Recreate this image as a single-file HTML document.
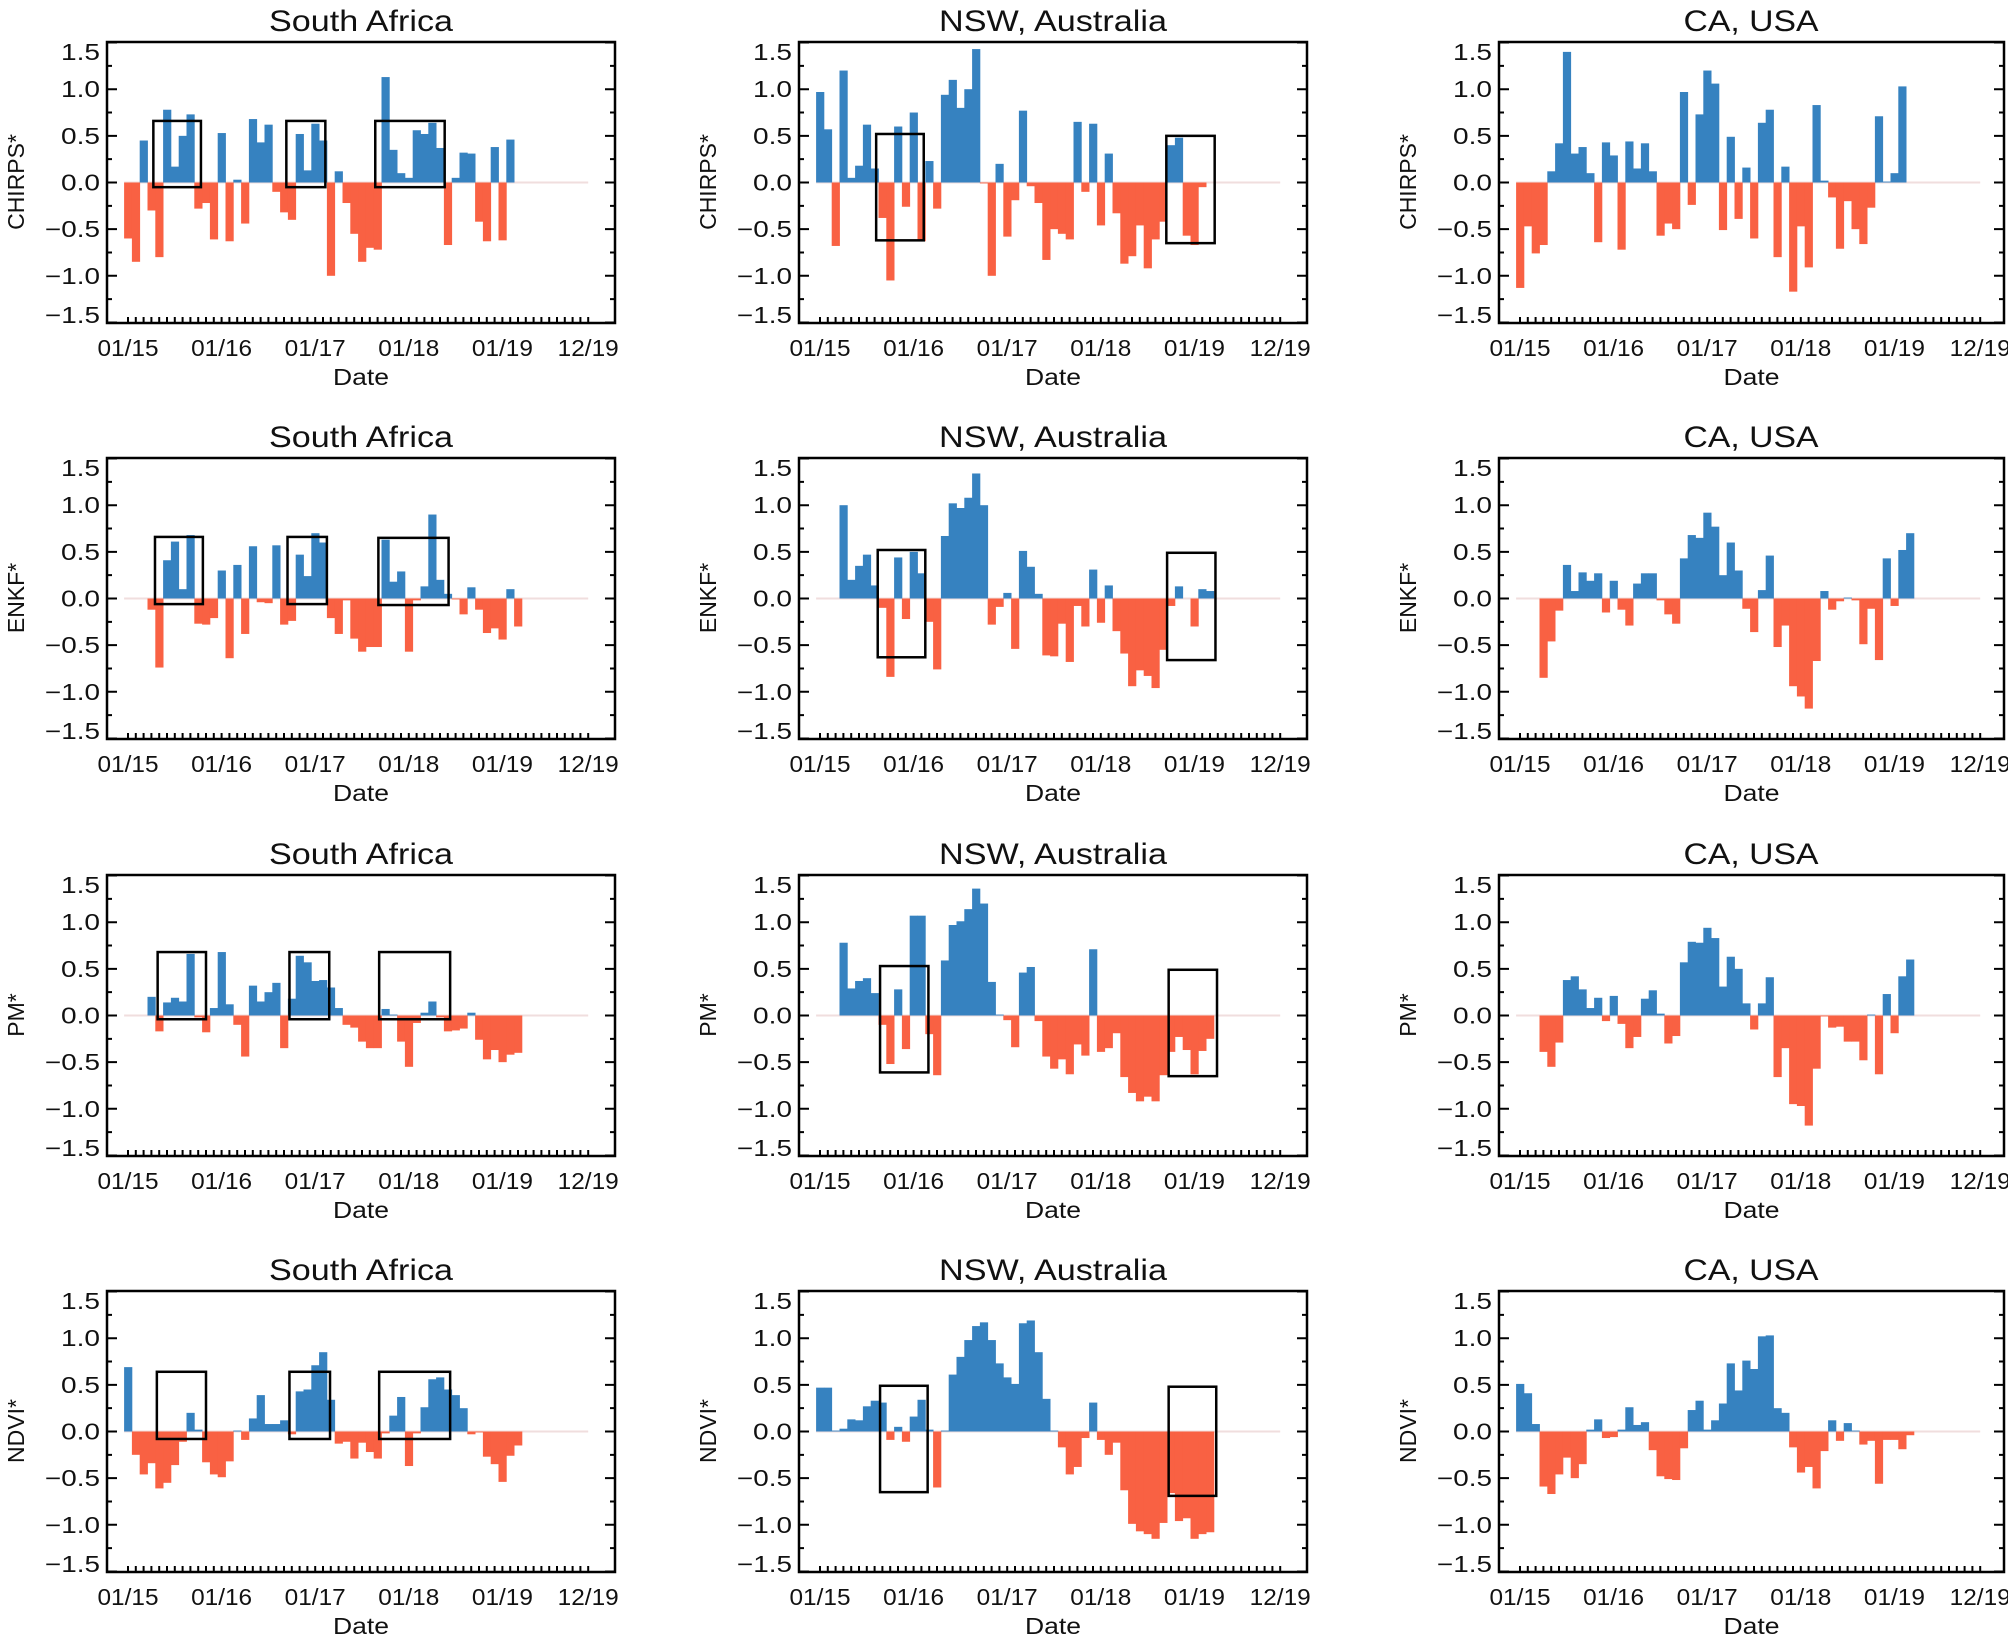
<!DOCTYPE html>
<html><head><meta charset="utf-8"><style>
html,body{margin:0;padding:0;background:#fff;}
svg{display:block;}
text{font-family:"Liberation Sans",Arial,sans-serif;fill:#111;}
.t{font-size:30px;text-anchor:middle;}
.y{font-size:23px;text-anchor:end;}
.x{font-size:23px;text-anchor:middle;}
.l{font-size:23px;text-anchor:middle;}
</style></head><body>
<svg id="s" width="2008" height="1639" viewBox="0 0 2008 1639" xmlns="http://www.w3.org/2000/svg">
<g id="p00" transform="translate(107,42)"><text class="t" x="254" y="-11" textLength="184" lengthAdjust="spacingAndGlyphs">South Africa</text><text class="l" transform="translate(-83,140) rotate(-90)">CHIRPS*</text></g>
<g id="p01" transform="translate(799,42)"><text class="t" x="254" y="-11" textLength="228" lengthAdjust="spacingAndGlyphs">NSW, Australia</text><text class="l" transform="translate(-83,140) rotate(-90)">CHIRPS*</text></g>
<g id="p02" transform="translate(1499,42)"><text class="t" x="252" y="-11" textLength="135" lengthAdjust="spacingAndGlyphs">CA, USA</text><text class="l" transform="translate(-83,140) rotate(-90)">CHIRPS*</text></g>
<g id="p10" transform="translate(107,458)"><text class="t" x="254" y="-11" textLength="184" lengthAdjust="spacingAndGlyphs">South Africa</text><text class="l" transform="translate(-83,140) rotate(-90)">ENKF*</text></g>
<g id="p11" transform="translate(799,458)"><text class="t" x="254" y="-11" textLength="228" lengthAdjust="spacingAndGlyphs">NSW, Australia</text><text class="l" transform="translate(-83,140) rotate(-90)">ENKF*</text></g>
<g id="p12" transform="translate(1499,458)"><text class="t" x="252" y="-11" textLength="135" lengthAdjust="spacingAndGlyphs">CA, USA</text><text class="l" transform="translate(-83,140) rotate(-90)">ENKF*</text></g>
<g id="p20" transform="translate(107,875)"><text class="t" x="254" y="-11" textLength="184" lengthAdjust="spacingAndGlyphs">South Africa</text><text class="l" transform="translate(-83,140) rotate(-90)">PM*</text></g>
<g id="p21" transform="translate(799,875)"><text class="t" x="254" y="-11" textLength="228" lengthAdjust="spacingAndGlyphs">NSW, Australia</text><text class="l" transform="translate(-83,140) rotate(-90)">PM*</text></g>
<g id="p22" transform="translate(1499,875)"><text class="t" x="252" y="-11" textLength="135" lengthAdjust="spacingAndGlyphs">CA, USA</text><text class="l" transform="translate(-83,140) rotate(-90)">PM*</text></g>
<g id="p30" transform="translate(107,1291)"><text class="t" x="254" y="-11" textLength="184" lengthAdjust="spacingAndGlyphs">South Africa</text><text class="l" transform="translate(-83,140) rotate(-90)">NDVI*</text></g>
<g id="p31" transform="translate(799,1291)"><text class="t" x="254" y="-11" textLength="228" lengthAdjust="spacingAndGlyphs">NSW, Australia</text><text class="l" transform="translate(-83,140) rotate(-90)">NDVI*</text></g>
<g id="p32" transform="translate(1499,1291)"><text class="t" x="252" y="-11" textLength="135" lengthAdjust="spacingAndGlyphs">CA, USA</text><text class="l" transform="translate(-83,140) rotate(-90)">NDVI*</text></g>
</svg>
<script>
var NS="http://www.w3.org/2000/svg";
var D={
p00:[[-0.6,-0.85,0.45,-0.3,-0.8,0.78,0.17,0.5,0.73,-0.28,-0.22,-0.61,0.53,-0.63,0.03,-0.44,0.68,0.43,0.62,-0.1,-0.32,-0.4,0.52,0.13,0.63,0.45,-1.0,0.12,-0.22,-0.55,-0.85,-0.7,-0.72,1.13,0.35,0.1,0.05,0.56,0.52,0.64,0.37,-0.67,0.05,0.32,0.31,-0.42,-0.63,0.38,-0.62,0.46],[[3.25,9.35,.66,-.05],[20.3,25.3,.66,-.05],[31.7,40.6,.66,-.05]]],
p01:[[0.97,0.57,-0.68,1.2,0.05,0.18,0.62,0.15,-0.38,-1.05,0.6,-0.26,0.75,-0.63,0.23,-0.28,0.94,1.1,0.8,1.0,1.43,-0.01,-1.0,0.2,-0.58,-0.19,0.77,-0.04,-0.22,-0.83,-0.5,-0.55,-0.61,0.65,-0.1,0.63,-0.46,0.31,-0.33,-0.87,-0.79,-0.46,-0.92,-0.61,-0.42,0.4,0.48,-0.57,-0.67,-0.05],[[7.2,13.3,.52,-.62],[44.4,50.6,.5,-.65]]],
p02:[[-1.13,-0.47,-0.76,-0.67,0.12,0.42,1.4,0.31,0.38,0.1,-0.64,0.43,0.29,-0.72,0.44,0.15,0.42,0.12,-0.57,-0.44,-0.5,0.97,-0.24,0.73,1.2,1.06,-0.51,0.49,-0.39,0.16,-0.6,0.64,0.78,-0.8,0.17,-1.17,-0.47,-0.91,0.83,0.02,-0.16,-0.71,-0.2,-0.5,-0.66,-0.27,0.71,0.01,0.1,1.03],[]],
p10:[[0,0,0,-0.12,-0.74,0.41,0.61,0.1,0.68,-0.27,-0.28,-0.21,0.3,-0.64,0.36,-0.38,0.56,-0.04,-0.05,0.57,-0.28,-0.24,0.47,0.24,0.7,0.6,-0.21,-0.38,-0.02,-0.43,-0.57,-0.52,-0.52,0.63,0.18,0.29,-0.57,-0.02,0.13,0.9,0.2,0.05,-0.01,-0.17,0.12,-0.12,-0.37,-0.32,-0.44,0.1,-0.3],[[3.46,9.6,.66,-.06],[20.45,25.5,.66,-.06],[32.1,41.1,.65,-.07]]],
p11:[[0,0,0,1.0,0.2,0.35,0.47,0.14,-0.1,-0.84,0.44,-0.22,0.5,0.27,-0.25,-0.76,0.67,1.02,0.97,1.08,1.34,1.0,-0.28,-0.09,0.06,-0.54,0.51,0.34,0.05,-0.61,-0.62,-0.27,-0.68,-0.08,-0.3,0.31,-0.26,0.14,-0.35,-0.59,-0.94,-0.77,-0.83,-0.96,-0.55,-0.08,0.13,0,-0.3,0.1,0.08],[[7.4,13.5,.52,-.63],[44.5,50.7,.49,-.66]]],
p12:[[0,0,0,-0.85,-0.46,-0.13,0.36,0.08,0.28,0.19,0.27,-0.15,0.19,-0.12,-0.29,0.16,0.27,0.27,-0.02,-0.17,-0.27,0.43,0.68,0.65,0.92,0.77,0.25,0.6,0.3,-0.11,-0.36,0.09,0.46,-0.52,-0.29,-0.94,-1.05,-1.18,-0.67,0.08,-0.12,-0.03,0.01,-0.02,-0.49,-0.11,-0.66,0.43,-0.08,0.52,0.7],[]],
p20:[[0,0,0,0.2,-0.17,0.14,0.19,0.15,0.66,-0.02,-0.18,0.08,0.68,0.12,-0.1,-0.44,0.32,0.15,0.25,0.35,-0.35,0.18,0.64,0.57,0.37,0.38,0.3,0.08,-0.1,-0.13,-0.28,-0.35,-0.35,0.07,0.01,-0.28,-0.55,-0.08,0.03,0.15,-0.02,-0.17,-0.16,-0.14,0.03,-0.26,-0.47,-0.37,-0.5,-0.42,-0.4],[[3.8,10.0,.68,-.04],[20.7,25.8,.68,-.04],[32.2,41.3,.68,-.04]]],
p21:[[0,0,0,0.78,0.29,0.37,0.4,0.24,-0.1,-0.52,0.28,-0.36,1.07,1.07,-0.2,-0.64,0.59,0.97,1.01,1.14,1.36,1.2,0.36,0.01,-0.05,-0.34,0.46,0.52,-0.06,-0.44,-0.57,-0.47,-0.63,-0.31,-0.43,0.71,-0.39,-0.35,-0.19,-0.66,-0.83,-0.92,-0.87,-0.92,-0.64,-0.39,-0.23,-0.37,-0.63,-0.38,-0.25],[[7.7,13.9,.53,-.61],[44.7,50.9,.49,-.65]]],
p22:[[0,0,0,-0.39,-0.55,-0.29,0.38,0.42,0.28,0.08,0.19,-0.06,0.21,-0.09,-0.35,-0.23,0.18,0.27,0.02,-0.3,-0.22,0.57,0.79,0.78,0.94,0.83,0.31,0.63,0.5,0.13,-0.15,0.13,0.41,-0.66,-0.35,-0.95,-0.97,-1.18,-0.57,-0.01,-0.13,-0.12,-0.28,-0.28,-0.48,0.01,-0.63,0.23,-0.19,0.42,0.6],[]],
p30:[[0.69,-0.25,-0.46,-0.34,-0.61,-0.55,-0.36,-0.11,0.2,0.02,-0.33,-0.46,-0.49,-0.32,0.01,-0.09,0.14,0.39,0.08,0.08,0.12,-0.03,0.43,0.45,0.71,0.85,0.34,-0.13,-0.11,-0.29,-0.12,-0.22,-0.29,-0.02,0.17,0.37,-0.37,-0.02,0.26,0.56,0.58,0.45,0.39,0.25,-0.03,-0.01,-0.27,-0.35,-0.54,-0.26,-0.15],[[3.7,10.0,.64,-.08],[20.7,25.9,.64,-.08],[32.2,41.3,.64,-.08]]],
p31:[[0.47,0.47,0.01,0.03,0.13,0.12,0.27,0.33,0.31,-0.09,0.05,-0.11,0.16,0.34,0.02,-0.6,0.01,0.61,0.8,0.98,1.13,1.17,0.98,0.73,0.58,0.51,1.16,1.19,0.85,0.35,0.01,-0.17,-0.46,-0.38,-0.07,0.31,-0.09,-0.25,-0.12,-0.63,-0.99,-1.07,-1.1,-1.15,-0.98,-0.66,-0.96,-0.93,-1.15,-1.1,-1.08],[[7.7,13.8,.49,-.65],[44.7,50.8,.48,-.69]]],
p32:[[0.51,0.41,0.08,-0.59,-0.67,-0.46,-0.28,-0.5,-0.35,0.02,0.13,-0.07,-0.06,0.02,0.26,0.07,0.1,-0.2,-0.48,-0.51,-0.52,-0.18,0.23,0.33,0.02,0.12,0.3,0.73,0.44,0.76,0.67,1.02,1.03,0.25,0.2,-0.17,-0.44,-0.38,-0.61,-0.21,0.12,-0.1,0.09,0.01,-0.14,-0.1,-0.56,-0.09,-0.09,-0.19,-0.04],[]]
};
var H=281,Z=140.5,U=93.3,X0=21,S=7.8;
function el(p,n,a,t){var e=document.createElementNS(NS,n);for(var k in a)e.setAttribute(k,a[k]);if(t!==undefined)e.textContent=t;p.appendChild(e);return e;}
var yl=[["1.5",18],["1.0",55],["0.5",102],["0.0",148.5],["\u22120.5",195],["\u22121.0",242],["\u22121.5",281]];
var xl=["01/15","01/16","01/17","01/18","01/19","12/19"],xk=[0,12,24,36,48,59];
for(var id in D){
 var W=id.charAt(2)=="2"?505:508;
 var g=document.getElementById(id),d=D[id][0],bx=D[id][1];
 el(g,"line",{x1:X0-S/2,x2:X0+59*S,y1:Z,y2:Z,stroke:"#f0dede","stroke-width":2});
 for(var k=0;k<d.length;k++){var v=d[k];if(!v)continue;
  var h=Math.abs(v)*U;el(g,"rect",{x:X0+(k-0.5)*S,y:v>0?Z-h:Z,width:S+0.4,height:h,fill:v>0?"#3682c0":"#f96143"});}
 for(var b=0;b<bx.length;b++){var q=bx[b];el(g,"rect",{x:X0+q[0]*S,y:Z-q[2]*U,width:(q[1]-q[0])*S,height:(q[2]-q[3])*U,fill:"none",stroke:"#000","stroke-width":2.5});}
 var p="";
 for(var i=-6;i<=6;i++){var y=Z-i*0.25*U,len=(i%2==0)?10:5;p+="M0 "+y+"h"+len+"M"+W+" "+y+"h"+(-len);}
 for(var m=0;m<60;m++){var x=X0+m*S;p+="M"+x+" "+H+"v-6";}
 el(g,"path",{d:p,stroke:"#000","stroke-width":2,fill:"none"});
 el(g,"rect",{x:0,y:0,width:W,height:H,fill:"none",stroke:"#000","stroke-width":2.5});
 for(var i=0;i<yl.length;i++){var s=yl[i][0];el(g,"text",{"class":"y",x:-7,y:yl[i][1],textLength:s.length>3?55:39,lengthAdjust:"spacingAndGlyphs"},s);}
 for(var i=0;i<6;i++){el(g,"text",{"class":"x",x:X0+xk[i]*S,y:314,textLength:61,lengthAdjust:"spacingAndGlyphs"},xl[i]);}
 el(g,"text",{"class":"x",x:W/2,y:343,textLength:56,lengthAdjust:"spacingAndGlyphs"},"Date");
}
</script>
</body></html>
